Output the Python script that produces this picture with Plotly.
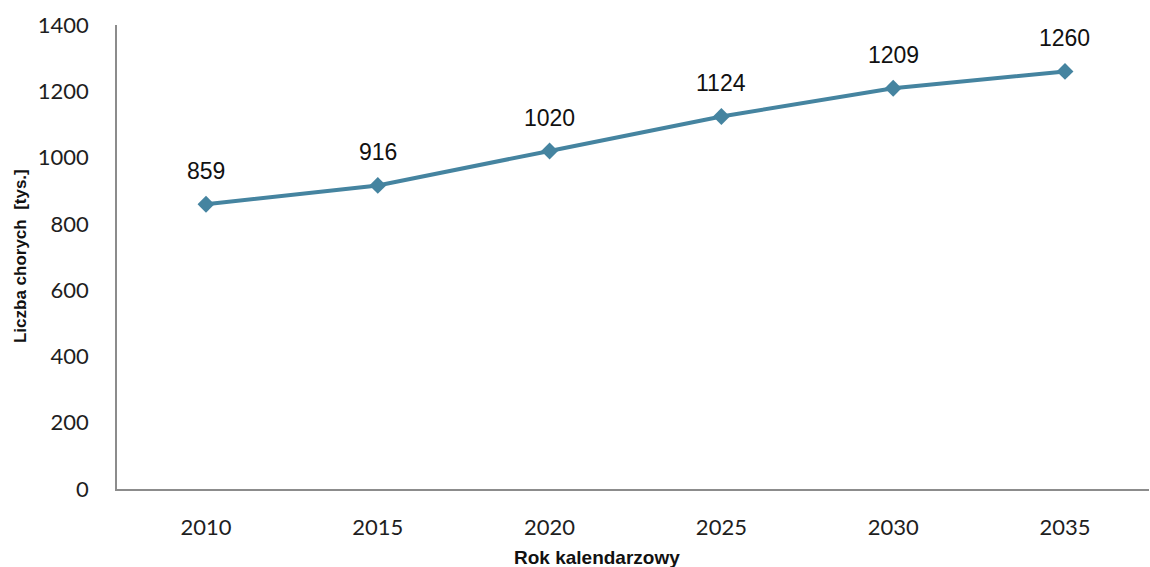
import plotly.graph_objects as go

# Projected number of patients (thousands) by calendar year
years = ["2010", "2015", "2020", "2025", "2030", "2035"]
patients = [859, 916, 1020, 1124, 1209, 1260]
y_ticks = [0, 200, 400, 600, 800, 1000, 1200, 1400]

line_color = "#4584A0"
axis_color = "#8C8C8C"

fig = go.Figure()
fig.add_trace(go.Scatter(
    x=years, y=patients,
    mode="lines+markers",
    line=dict(color=line_color, width=4),
    marker=dict(symbol="diamond", size=13, color=line_color),
    hoverinfo="skip",
))

# value labels above each point (category index used as x position)
for i, v in enumerate(patients):
    fig.add_annotation(
        x=i, y=v, text=str(v), showarrow=False, yshift=33,
        font=dict(family="Liberation Sans, Arial", size=23, color="#111111"),
    )

# axis titles
fig.add_annotation(
    xref="paper", yref="paper", x=0.465, y=-0.148, yanchor="middle",
    text="<b>Rok kalendarzowy</b>", showarrow=False,
    font=dict(family="Liberation Sans, Arial", size=19, color="#111111"),
)
fig.add_annotation(
    xref="paper", yref="paper", x=-0.094, y=0.502, xanchor="center", yanchor="middle",
    text="<b>Liczba chorych  [tys.]</b>", textangle=-90, showarrow=False,
    font=dict(family="Liberation Sans, Arial", size=17, color="#111111"),
)

fig.update_layout(
    width=1150, height=567,
    margin=dict(l=117, r=1, t=25, b=78),
    paper_bgcolor="white", plot_bgcolor="white",
    showlegend=False,
    font=dict(family="Lato, Open Sans, sans-serif", size=22, color="#1e1e1e"),
)
fig.update_xaxes(
    type="category", range=[-0.518, 5.489],
    showline=True, linecolor=axis_color, linewidth=1.5,
    showgrid=False, zeroline=False, ticks="", ticklabelstandoff=18,
)
fig.update_yaxes(
    range=[0, 1400], tickvals=y_ticks,
    showline=True, linecolor=axis_color, linewidth=1.5,
    showgrid=False, zeroline=False, ticks="", ticklabelstandoff=22,
)

fig.write_html("out.html")
